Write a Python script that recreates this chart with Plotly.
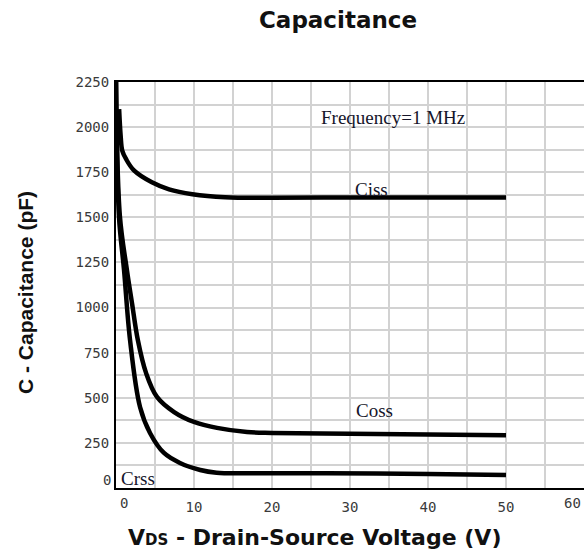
import plotly.graph_objects as go

# Capacitance vs drain-source voltage (f = 1 MHz)
vds_ciss = [0.4, 0.6, 0.8, 1.3, 2.3, 4.6, 6.8, 9.8, 14, 20, 30, 40, 50]
ciss = [2100, 1950, 1870, 1822, 1760, 1694, 1655, 1628, 1611, 1608, 1610, 1610, 1610]

vds_coss = [0, 0.5, 1.4, 2.05, 2.8, 3.85, 5.25, 7.45, 10.0, 12.95, 16.8, 20, 30, 40, 50]
coss = [2260, 1506, 1208, 1025, 820, 638, 505, 421, 366, 333, 310, 305, 300, 296, 292]

vds_crss = [0, 0.38, 1.03, 1.8, 3.08, 4.36, 6.15, 8.2, 10.8, 12.9, 16.8, 27, 40, 50]
crss = [2260, 1506, 1208, 820, 449, 305, 194, 139, 100, 85, 82, 82, 77, 72]

x_ticks = [10, 20, 30, 40, 50]
x_minor = [5, 15, 25, 35, 45, 55]
y_ticks = [250, 500, 750, 1000, 1250, 1500, 1750, 2000, 2250]
y_minor = [125, 375, 625, 875, 1125, 1375, 1625, 1875, 2125]

TICK_FONT = dict(family="DejaVu Sans Mono", size=14, color="#3a3a3a")
LABEL_FONT = dict(family="Liberation Serif", size=19, color="#15152a")
GRID = "#d2d2d2"

fig = go.Figure()
for xs, ys, name in [(vds_ciss, ciss, "Ciss"), (vds_coss, coss, "Coss"), (vds_crss, crss, "Crss")]:
    fig.add_trace(go.Scatter(
        x=xs, y=ys, name=name, mode="lines",
        line=dict(color="black", width=4.5, shape="spline", smoothing=1.0),
        showlegend=False,
    ))

fig.update_layout(
    width=584, height=551,
    margin=dict(l=116, r=0, t=82, b=63),
    paper_bgcolor="white", plot_bgcolor="white",
    title=dict(text="<b>Capacitance</b>", x=338 / 584, y=1 - 20 / 551,
               xanchor="center", yanchor="middle",
               font=dict(family="DejaVu Sans", size=23, color="#111")),
)

fig.update_xaxes(
    range=[0, 60], tickvals=x_ticks, ticktext=[str(v) for v in x_ticks],
    tickfont=TICK_FONT, ticks="", ticklabelstandoff=5,
    showgrid=True, gridcolor=GRID, gridwidth=1.5,
    minor=dict(tickvals=x_minor, showgrid=True, gridcolor=GRID, gridwidth=1.5),
    showline=True, linecolor="black", linewidth=2, mirror=True,
    zeroline=False, fixedrange=True,
)
fig.update_yaxes(
    range=[0, 2250], tickvals=y_ticks, ticktext=[str(v) for v in y_ticks],
    tickfont=TICK_FONT, ticks="", ticklabelstandoff=2,
    showgrid=True, gridcolor=GRID, gridwidth=1.5,
    minor=dict(tickvals=y_minor, showgrid=True, gridcolor=GRID, gridwidth=1.5),
    showline=True, linecolor="black", linewidth=2,
    zeroline=False, fixedrange=True,
)

# Edge tick labels, nudged clear of the axis corner and the right border
fig.add_annotation(x=0, y=0, text="0", showarrow=False, font=TICK_FONT,
                   xanchor="center", yanchor="middle", xshift=8, yshift=-15)
fig.add_annotation(x=60, y=0, text="60", showarrow=False, font=TICK_FONT,
                   xanchor="center", yanchor="middle", xshift=-12, yshift=-15)
fig.add_annotation(x=0, y=0, text="0", showarrow=False, font=TICK_FONT,
                   xanchor="right", yanchor="middle", xshift=-3, yshift=8)

# Curve labels and test condition
fig.add_annotation(x=35.5, y=2051, text="Frequency=1 MHz", showarrow=False,
                   font=LABEL_FONT, xanchor="center", yanchor="middle")
fig.add_annotation(x=32.7, y=1657, text="Ciss", showarrow=False,
                   font=LABEL_FONT, xanchor="center", yanchor="middle")
fig.add_annotation(x=33.1, y=432, text="Coss", showarrow=False,
                   font=LABEL_FONT, xanchor="center", yanchor="middle")
fig.add_annotation(x=0.4, y=55, text="Crss", showarrow=False,
                   font=LABEL_FONT, xanchor="left", yanchor="middle")

# Axis titles
fig.add_annotation(xref="paper", yref="paper", x=(314 - 116) / 468, y=(488 - 537) / 406,
                   text="<b>V<span style='font-size:15px'>DS</span> - Drain-Source Voltage (V)</b>",
                   showarrow=False,
                   font=dict(family="DejaVu Sans", size=22, color="#111"),
                   xanchor="center", yanchor="middle")
fig.add_annotation(xref="paper", yref="paper", x=(25 - 116) / 468, y=(488 - 293) / 406,
                   text="<b>C - Capacitance (pF)</b>", showarrow=False, textangle=-90,
                   font=dict(family="Liberation Sans", size=21, color="#111"),
                   xanchor="center", yanchor="middle")

fig.write_html("out.html")
